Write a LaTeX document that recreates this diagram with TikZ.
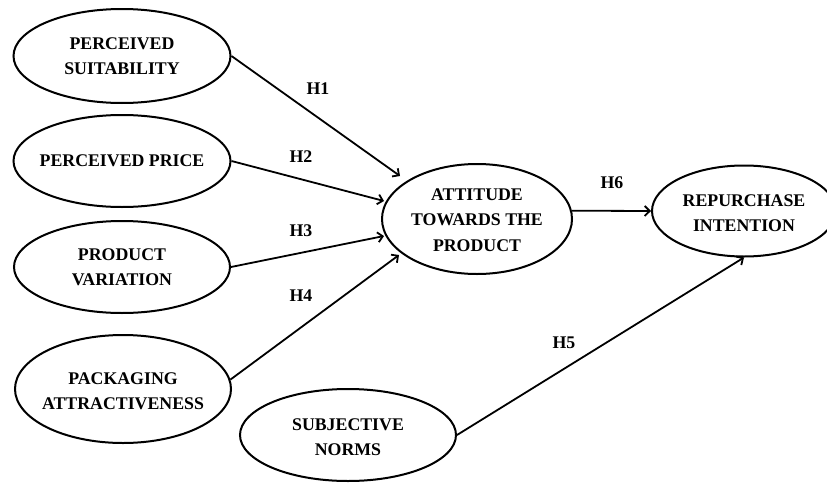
\documentclass[tikz,border=0pt]{standalone}
\usepackage{fontspec}
\setmainfont{Liberation Serif}
\usetikzlibrary{shapes.geometric,arrows.meta}
\begin{document}
\begin{tikzpicture}[x=1pt,y=-1pt,
  every node/.style={font=\fontsize{17.8}{25.5}\selectfont\bfseries},
  oval/.style={ellipse,draw,line width=2pt,inner sep=0pt},
  lbl/.style={align=center,inner sep=0pt},
  arr/.style={line width=1.8pt,-{Straight Barb[length=5pt,width=10pt,line width=1.8pt]}}]
\useasboundingbox (0,0) rectangle (827,482);
% ellipses
\node[oval,minimum width=217pt,minimum height=94pt] (ps) at (122,56) {};
\node[oval,minimum width=217pt,minimum height=92pt] (pp) at (122,161) {};
\node[oval,minimum width=216pt,minimum height=92pt] (pv) at (122,267) {};
\node[oval,minimum width=216pt,minimum height=108pt] (pa) at (123,389) {};
\node[oval,minimum width=216pt,minimum height=92pt] (sn) at (348,435) {};
\node[oval,minimum width=190pt,minimum height=110pt] (at) at (477,219) {};
\node[oval,minimum width=184pt,minimum height=91pt] (ri) at (744,211) {};
% texts
\node[lbl] (tps) at (ps.center) {PERCEIVED\\SUITABILITY};
\node[lbl] (tpp) at (pp.center) {PERCEIVED PRICE};
\node[lbl] (tpv) at (pv.center) {PRODUCT\\VARIATION};
\node[lbl] (tpa) at ([yshift=-2pt]pa.center) {PACKAGING\\ATTRACTIVENESS};
\node[lbl] (tsn) at ([yshift=-2pt]sn.center) {SUBJECTIVE\\NORMS};
\node[lbl] (tat) at ([yshift=-1pt]at.center) {ATTITUDE\\TOWARDS THE\\PRODUCT};
\node[lbl] (tri) at ([yshift=-2pt]ri.center) {REPURCHASE\\INTENTION};
% arrow end points
\coordinate (e1) at (400,176);
\coordinate (e2) at (384,201);
\coordinate (e3) at (384,236);
\coordinate (e4) at (399,255);
% connectors
\draw[arr] (ps.east) -- (e1);
\draw[arr] (pp.east) -- (e2);
\draw[arr] (pv.east) -- (e3);
\draw[arr] (pa.5) -- (e4);
\draw[arr] (at.5) -- (ri.west);
\draw[arr] (sn.east) -- (ri.south);
% hypothesis labels
\node[lbl] (h1) at (318,89) {H1};
\node[lbl] (h2) at (301,157) {H2};
\node[lbl] (h3) at (301,231) {H3};
\node[lbl] (h4) at (301,296) {H4};
\node[lbl] (h6) at (612,183) {H6};
\node[lbl] (h5) at (564,343) {H5};
\end{tikzpicture}
\end{document}
